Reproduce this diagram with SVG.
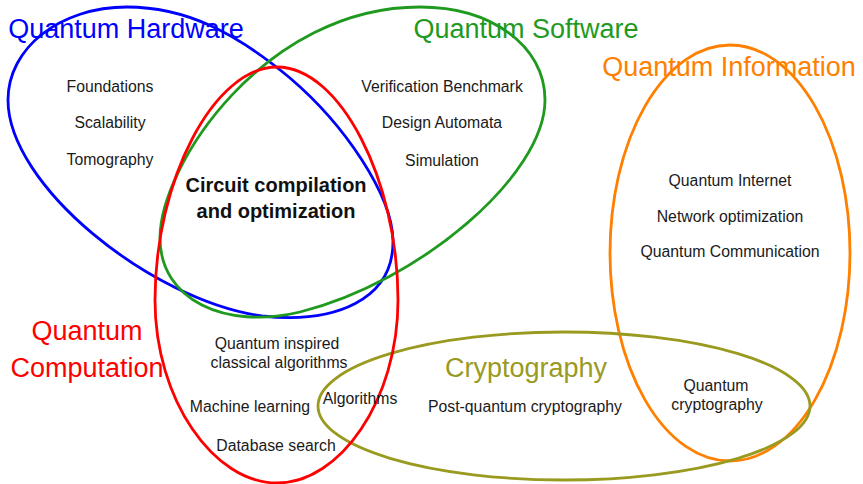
<svg xmlns="http://www.w3.org/2000/svg" width="863" height="484" viewBox="0 0 863 484">
<style>
.set{fill:none;stroke-width:2.8}
.t{font-family:"Liberation Sans",Arial,sans-serif;font-size:15.8px;fill:#1a1a1a;text-anchor:middle}
.b{font-family:"Liberation Sans",Arial,sans-serif;font-size:20px;font-weight:bold;fill:#111;text-anchor:middle}
.h{font-family:"Liberation Sans",Arial,sans-serif;font-size:27px;text-anchor:middle}
</style>
<rect width="863" height="484" fill="#fff"/>
<g id="hardware">
<path class="set" stroke="#0000ff" d="M127,7 C60,7 8,48 8,100 C8,185 150,300 262,316 C335,324 394,300 393,240 C392,195 345,125 290,78 C235,32 185,7 127,7 Z"/>
<text class="h" x="126" y="38" fill="#0000ff">Quantum Hardware</text>
<text class="t" x="110" y="92">Foundations</text>
<text class="t" x="110" y="128">Scalability</text>
<text class="t" x="110" y="165">Tomography</text>
</g>
<g id="software">
<path class="set" stroke="#1f9a1f" d="M420,7 C490,7 545,45 545,100 C545,175 420,282 300,312 C225,330 160,300 160,238 C160,165 265,7 420,7 Z"/>
<text class="h" x="526" y="38" fill="#1f9a1f">Quantum Software</text>
<text class="t" x="442" y="92">Verification Benchmark</text>
<text class="t" x="442" y="128">Design Automata</text>
<text class="t" x="442" y="166">Simulation</text>
</g>
<g id="information">
<ellipse class="set" stroke="#ff8000" cx="730" cy="253" rx="120" ry="208"/>
<text class="h" x="729" y="76" fill="#ff8000">Quantum Information</text>
<text class="t" x="730" y="186">Quantum Internet</text>
<text class="t" x="730" y="222">Network optimization</text>
<text class="t" x="730" y="257">Quantum Communication</text>
</g>
<g id="cryptography">
<ellipse class="set" stroke="#999a1f" cx="564" cy="406" rx="246" ry="74"/>
<text class="h" x="526" y="377" fill="#999a1f">Cryptography</text>
<text class="t" x="525" y="412">Post-quantum cryptography</text>
<text class="t" x="716" y="391">Quantum</text>
<text class="t" x="717" y="410">cryptography</text>
</g>
<g id="computation">
<path class="set" stroke="#ff0000" d="M277,67 C340,67 398,180 398,300 C398,400 340,483 277,483 C214,483 155,400 155,300 C155,180 214,67 277,67 Z"/>
<text class="h" x="87" y="340" fill="#ff0000">Quantum</text>
<text class="h" x="87" y="377" fill="#ff0000">Computation</text>
<text class="t" x="277" y="349">Quantum inspired</text>
<text class="t" x="279" y="368">classical algorithms</text>
<text class="t" x="250" y="412">Machine learning</text>
<text class="t" x="276" y="451">Database search</text>
</g>
<g id="intersection">
<text class="b" x="276" y="192">Circuit compilation</text>
<text class="b" x="276" y="218">and optimization</text>
<text class="t" x="360" y="404">Algorithms</text>
</g>
</svg>
